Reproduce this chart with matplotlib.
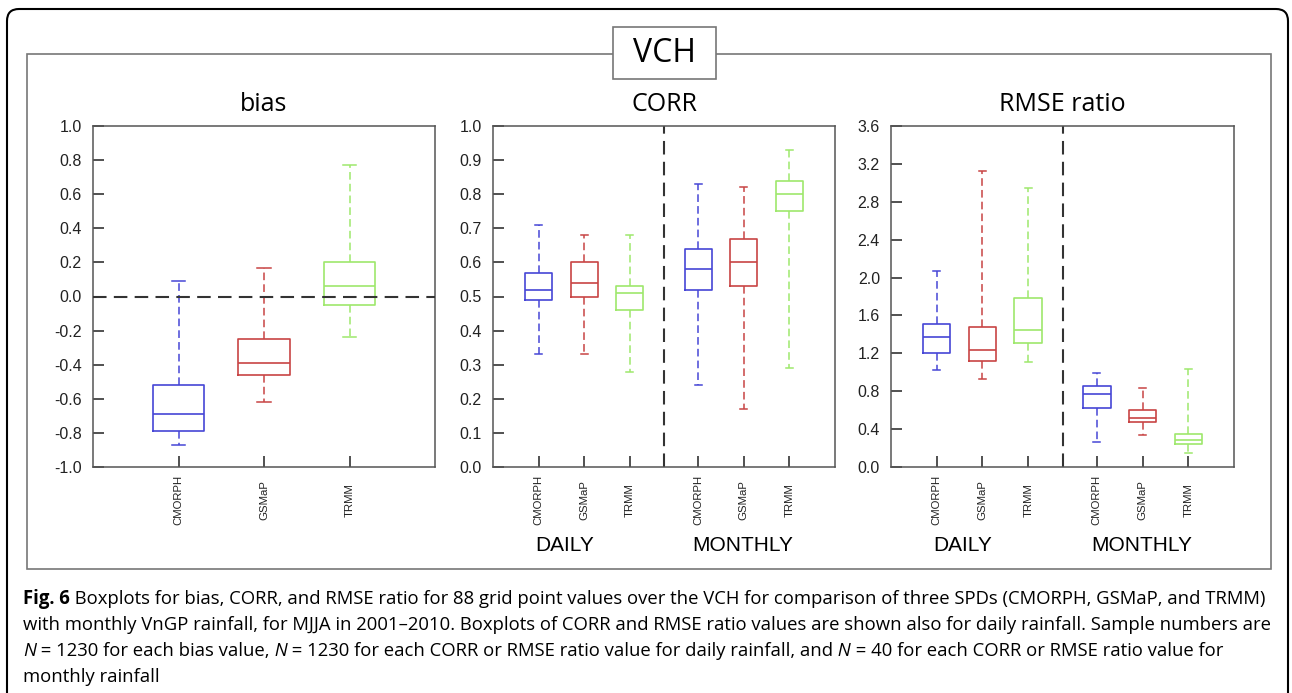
import matplotlib
matplotlib.use("Agg")
import matplotlib.pyplot as plt
from matplotlib.patches import FancyBboxPatch, Rectangle
from matplotlib.transforms import IdentityTransform

W, H = 1292, 693
plt.rcParams["axes.unicode_minus"] = False

products = ["CMORPH", "GSMaP", "TRMM"]
colors = ["#4646d6", "#c84444", "#9ee86c"]

# bias: one box per product
bias_lo = [-0.87, -0.62, -0.24]
bias_q1 = [-0.79, -0.46, -0.05]
bias_med = [-0.69, -0.39, 0.06]
bias_q3 = [-0.52, -0.25, 0.20]
bias_hi = [0.09, 0.17, 0.77]

# CORR: daily (3) then monthly (3)
corr_lo = [0.33, 0.33, 0.28, 0.24, 0.17, 0.29]
corr_q1 = [0.49, 0.50, 0.46, 0.52, 0.53, 0.75]
corr_med = [0.52, 0.54, 0.51, 0.58, 0.60, 0.80]
corr_q3 = [0.57, 0.60, 0.53, 0.64, 0.67, 0.84]
corr_hi = [0.71, 0.68, 0.68, 0.83, 0.82, 0.93]

# RMSE ratio: daily (3) then monthly (3)
rmse_lo = [1.02, 0.93, 1.11, 0.26, 0.34, 0.15]
rmse_q1 = [1.20, 1.12, 1.31, 0.62, 0.47, 0.24]
rmse_med = [1.37, 1.23, 1.45, 0.77, 0.52, 0.29]
rmse_q3 = [1.51, 1.48, 1.78, 0.86, 0.60, 0.35]
rmse_hi = [2.07, 3.12, 2.95, 0.99, 0.83, 1.03]

pos3 = [1, 2, 3]
pos6 = [1, 2, 3, 4.5, 5.5, 6.5]
split_x = 3.75

TICK_FONT = "Liberation Sans"
TITLE_FONT = "Open Sans"
CAP_FONT = "Open Sans"


def frac(x0, y0, x1, y1):
    """pixel box (top-left origin) -> figure fraction rect"""
    return [x0 / W, 1 - y1 / H, (x1 - x0) / W, (y1 - y0) / H]


def draw_boxes(ax, pos, lo, q1, med, q3, hi, cols):
    for i, p in enumerate(pos):
        c = cols[i % 3]
        st = dict(whislo=lo[i], q1=q1[i], med=med[i], q3=q3[i],
                  whishi=hi[i], fliers=[])
        ax.bxp([st], positions=[p], widths=0.6, capwidths=0.16,
               showfliers=False, manage_ticks=False,
               boxprops=dict(color=c, lw=1.2),
               whiskerprops=dict(color=c, lw=1.1, linestyle=(0, (5, 2.7))),
               capprops=dict(color=c, lw=1.1),
               medianprops=dict(color=c, lw=1.2))


def style_axes(ax, title, ylim, yticks, xpos, xlim):
    ax.set_xlim(*xlim)
    ax.set_ylim(*ylim)
    ax.set_yticks(yticks, [f"{v:.1f}" for v in yticks])
    ax.set_xticks(xpos, [products[i % 3] for i in range(len(xpos))])
    ax.tick_params(axis="both", direction="in", length=8, width=1.2,
                   color="#333333", top=False, right=False,
                   labelfontfamily=TICK_FONT, labelcolor="#222222")
    ax.tick_params(axis="y", pad=8, labelsize=11.5)
    ax.tick_params(axis="x", pad=24, labelsize=8.2, labelrotation=90)
    for lab in ax.get_xticklabels():
        lab.set_verticalalignment("center")
    for s in ax.spines.values():
        s.set_color("#555555")
        s.set_linewidth(1.1)
    ax.set_title(title, fontsize=18, pad=10.5, family=TITLE_FONT)


fig = plt.figure(figsize=(W / 100, H / 100), dpi=100)

# outer rounded frame + inner panel box
fig.patches.append(FancyBboxPatch((7, -40), 1281, H - 9 + 40,
                                  boxstyle="round,pad=0,rounding_size=12",
                                  transform=IdentityTransform(), fill=False,
                                  ec="black", lw=1.5, zorder=0))
fig.patches.append(Rectangle((27 / W, 1 - 569 / H), (1271 - 27) / W,
                             (569 - 54) / H, transform=fig.transFigure,
                             fill=False, ec="#777777", lw=1.2, zorder=1))
fig.patches.append(Rectangle((613 / W, 1 - 79 / H), (716 - 613) / W,
                             (79 - 27) / H, transform=fig.transFigure,
                             fc="white", ec="#777777", lw=1.2, zorder=2))
fig.text(664.5 / W, 1 - 53 / H, "VCH", fontsize=23, family=TITLE_FONT,
         ha="center", va="center", zorder=3)

# bias
ax1 = fig.add_axes(frac(93, 126, 435, 467))
draw_boxes(ax1, pos3, bias_lo, bias_q1, bias_med, bias_q3, bias_hi, colors)
ax1.axhline(0, color="#333333", lw=1.5, linestyle=(0, (6.5, 3.5)), zorder=3)
style_axes(ax1, "bias", (-1, 1), [-1.0, -0.8, -0.6, -0.4, -0.2, 0.0,
                                  0.2, 0.4, 0.6, 0.8, 1.0], pos3, (0, 4))

# CORR
ax2 = fig.add_axes(frac(493, 126, 835, 467))
draw_boxes(ax2, pos6, corr_lo, corr_q1, corr_med, corr_q3, corr_hi, colors)
ax2.axvline(split_x, color="#333333", lw=1.5, linestyle=(0, (6.5, 3.5)))
style_axes(ax2, "CORR", (0, 1), [i / 10 for i in range(11)], pos6, (0, 7.5))

# RMSE ratio
ax3 = fig.add_axes(frac(891, 126, 1234, 467))
draw_boxes(ax3, pos6, rmse_lo, rmse_q1, rmse_med, rmse_q3, rmse_hi, colors)
ax3.axvline(split_x, color="#333333", lw=1.5, linestyle=(0, (6.5, 3.5)))
style_axes(ax3, "RMSE ratio", (0, 3.6), [i * 0.4 for i in range(10)],
           pos6, (0, 7.5))

for ax in (ax2, ax3):
    tr = ax.get_xaxis_transform()
    ax.text(1.57, -0.229, "DAILY", transform=tr, ha="center", va="center",
            fontsize=15, family=TICK_FONT)
    ax.text(5.48, -0.229, "MONTHLY", transform=tr, ha="center", va="center",
            fontsize=15, family=TICK_FONT)

# ----- caption ------------------------------------------------------- #
caption = [
    [("Fig. 6", "bold"), (" Boxplots for bias, CORR, and RMSE ratio for 88 grid "
                          "point values over the VCH for comparison of three SPDs "
                          "(CMORPH, GSMaP, and TRMM)", "normal")],
    [("with monthly VnGP rainfall, for MJJA in 2001\u20132010. Boxplots of CORR "
      "and RMSE ratio values are shown also for daily rainfall. Sample numbers "
      "are", "normal")],
    [("N", "italic"), (" = 1230 for each bias value,", "normal"),
     (" N", "italic"), (" = 1230 for each CORR or RMSE ratio value for daily "
                        "rainfall, and", "normal"),
     (" N", "italic"), (" = 40 for each CORR or RMSE ratio value for", "normal")],
    [("monthly rainfall", "normal")],
]
baselines = [604, 630, 656, 682]
renderer = fig.canvas.get_renderer()
for runs, yb in zip(caption, baselines):
    x = 23
    for txt, sty in runs:
        t = fig.text(x / W, 1 - yb / H, txt, fontsize=13.35, family=CAP_FONT,
                     ha="left", va="baseline",
                     fontweight="bold" if sty == "bold" else "normal",
                     fontstyle="italic" if sty == "italic" else "normal")
        x += t.get_window_extent(renderer).width

fig.savefig("out.png", dpi=100)
